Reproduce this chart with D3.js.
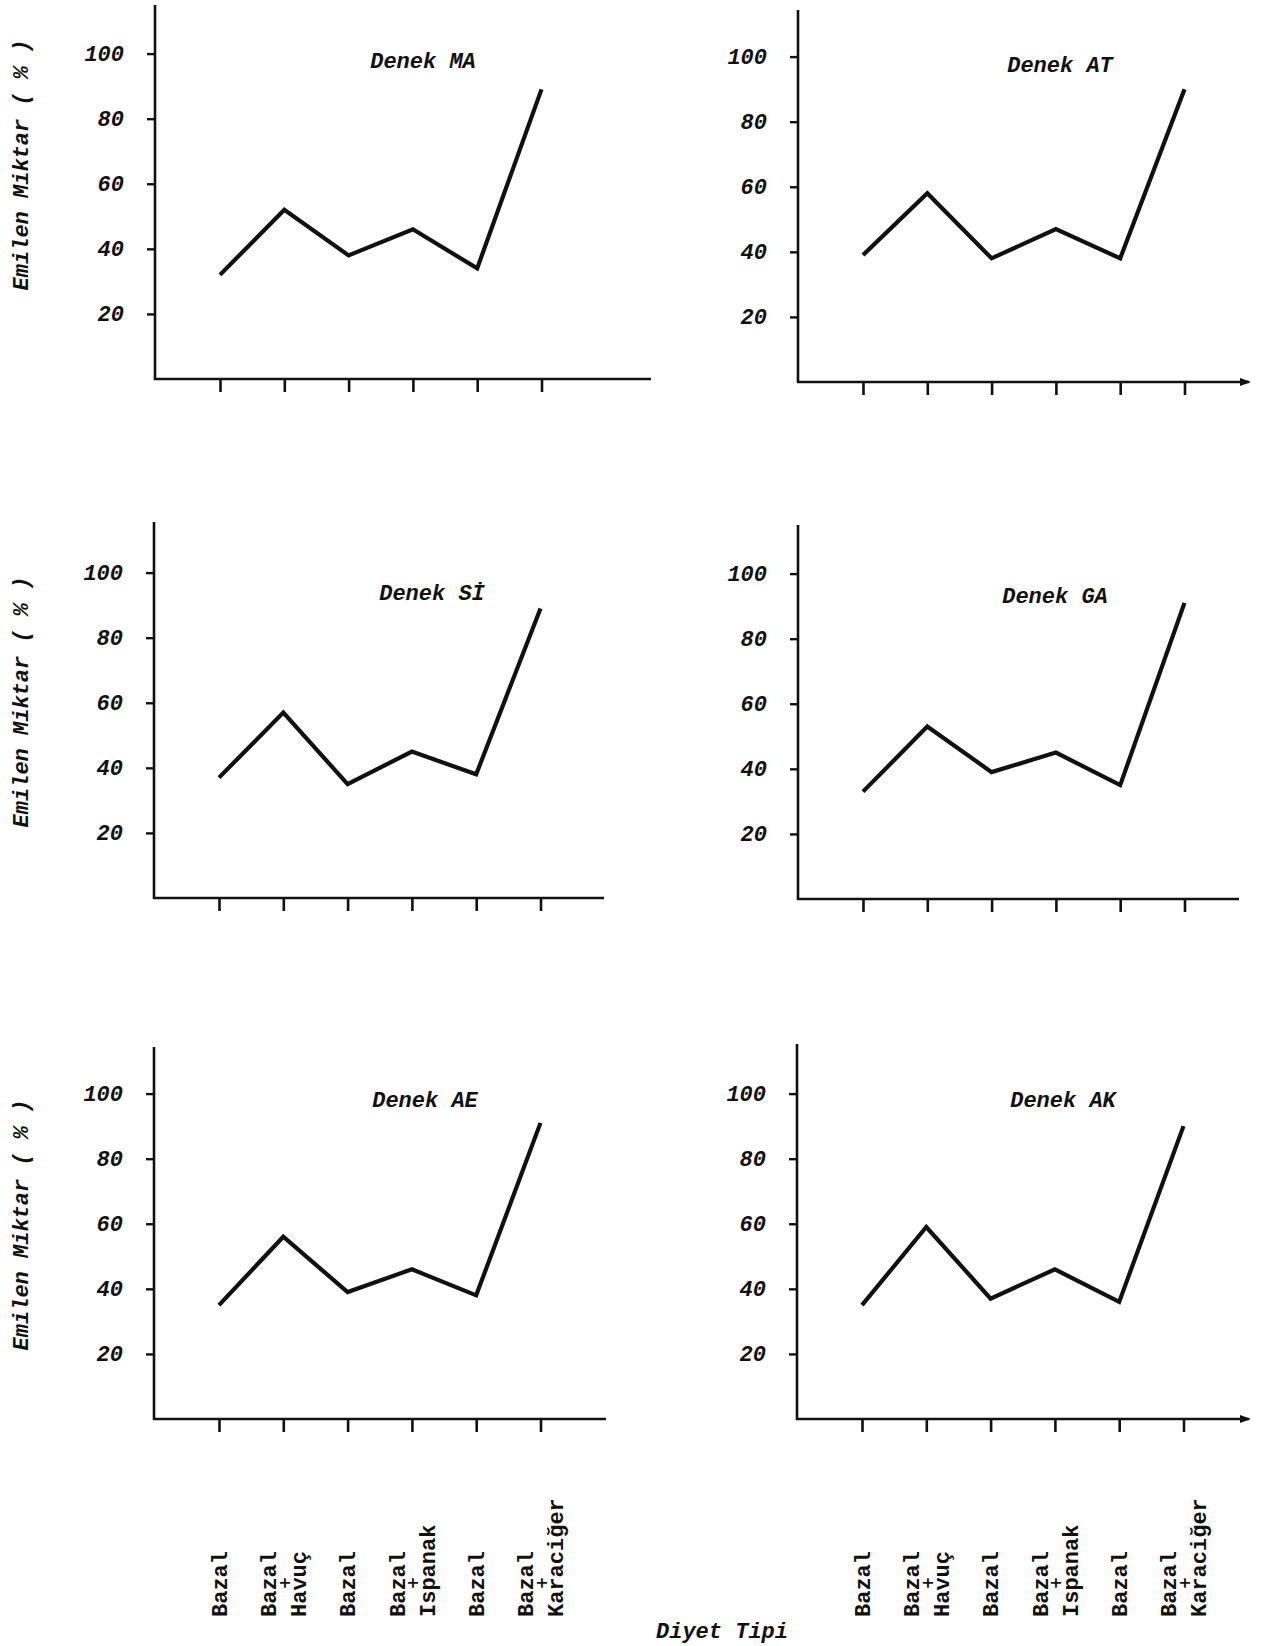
<!DOCTYPE html>
<html>
<head>
<meta charset="utf-8">
<script src="https://cdn.jsdelivr.net/npm/d3@7"></script>
<style>
body{margin:0;background:#fff}
</style>
</head>
<body>
<div id="graph"></div>
<script>
// diet types on the x axis, each split into the lines it is printed on
let dietTypes=[["Bazal"],["Bazal","Havuç"],["Bazal"],["Bazal","Ispanak"],["Bazal"],["Bazal","Karaciğer"]]
let subjects=["MA","AT","Sİ","GA","AE","AK"]
// absorbed amount (%) per diet
let valuesMA=[32,52,38,46,34,89]
let valuesAT=[39,58,38,47,38,90]
let valuesSI=[37,57,35,45,38,89]
let valuesGA=[33,53,39,45,35,91]
let valuesAE=[35,56,39,46,38,91]
let valuesAK=[35,59,37,46,36,90]
let yTicks=[20,40,60,80,100]
let yLabel="Emilen Miktar ( % )"
let xLabel="Diyet Tipi"

let seriesList=[valuesMA,valuesAT,valuesSI,valuesGA,valuesAE,valuesAK]

// where each small plot sits on the page
let panels=[
 {ax:155,zero:379,top:5,end:651,tx:423,ty:68,ly:165,arrow:false},
 {ax:798,zero:382,top:10,end:1249,tx:1060,ty:72,ly:null,arrow:true},
 {ax:154,zero:898,top:522,end:604,tx:432,ty:600,ly:702,arrow:false},
 {ax:798,zero:899,top:525,end:1239,tx:1055,ty:603,ly:null,arrow:false},
 {ax:154,zero:1419,top:1047,end:606,tx:425,ty:1107,ly:1225,arrow:false},
 {ax:797,zero:1419,top:1044,end:1249,tx:1063,ty:1107,ly:null,arrow:true}
]

const ink="#111"
const font="'Liberation Mono','DejaVu Sans Mono',monospace"
const W=1267,H=1646

let svg=d3.select("#graph")
.append("svg")
.attr("width",W)
.attr("height",H)
.style("display","block")
.style("background","#fff")

let xScales=[]

panels.forEach((p,k)=>{
  let g=svg.append("g")
  let y=d3.scaleLinear().domain([0,100]).range([p.zero,p.zero-325.4])
  let x=d3.scalePoint().domain(d3.range(dietTypes.length)).range([p.ax+65,p.ax+65+5*64.3])
  xScales.push(x)

  //axis lines
  g.append("line")
  .attr("x1",p.ax).attr("x2",p.ax)
  .attr("y1",p.zero+1).attr("y2",p.top)
  .attr("stroke",ink).attr("stroke-width",2.6)
  g.append("line")
  .attr("x1",p.ax-1).attr("x2",p.end)
  .attr("y1",p.zero).attr("y2",p.zero)
  .attr("stroke",ink).attr("stroke-width",2.6)
  if(p.arrow){
    g.append("path")
    .attr("d",`M${p.end-9},${p.zero-4}L${p.end+2},${p.zero}L${p.end-9},${p.zero+4}Z`)
    .attr("fill",ink)
  }

  // y axis
  let yAxis=d3.axisLeft(y).tickValues(yTicks).tickSize(8).tickPadding(23).tickSizeOuter(0)
  let ya=g.append("g").attr("transform",`translate(${p.ax},0)`).call(yAxis)
  ya.select(".domain").remove()
  ya.selectAll("line").attr("stroke",ink).attr("stroke-width",2.4)
  ya.selectAll("text")
  .attr("fill",ink)
  .style("font-family",font)
  .style("font-size","22px")
  .style("font-style","italic")
  .style("font-weight","bold")

  // x axis, labels only under the last row
  let xAxis=d3.axisBottom(x).tickSize(13).tickFormat("").tickSizeOuter(0)
  let xa=g.append("g").attr("transform",`translate(0,${p.zero})`).call(xAxis)
  xa.select(".domain").remove()
  xa.selectAll("line").attr("stroke",ink).attr("stroke-width",2.6)

  let line=d3.line().x((d,i)=>x(i)).y(d=>y(d))
  g.append("path")
  .datum(seriesList[k])
  .attr("d",line)
  .attr("fill","none")
  .attr("stroke",ink)
  .attr("stroke-width",4.2)
  .attr("stroke-linejoin","miter")

  g.append("text")
  .attr("x",p.tx).attr("y",p.ty)
  .attr("text-anchor","middle")
  .attr("fill",ink)
  .style("font-family",font)
  .style("font-size","22px")
  .style("font-style","italic")
  .style("font-weight","bold")
  .text("Denek "+subjects[k])

  if(p.ly){
    g.append("text")
    .attr("transform",`translate(28,${p.ly}) rotate(-90)`)
    .attr("text-anchor","middle")
    .attr("fill",ink)
    .style("font-family",font)
    .style("font-size","22px")
    .style("font-style","italic")
    .style("font-weight","bold")
    .text(yLabel)
  }
})

// diet type labels under both bottom plots
const labelBase=1617
;[xScales[4],xScales[5]].forEach(x=>{
  dietTypes.forEach((lines,i)=>{
    let t=svg.append("g").attr("transform",`translate(${x(i)},${labelBase}) rotate(-90)`)
    let offs=lines.length==1?[0]:[-15,15]
    lines.forEach((s,j)=>{
      t.append("text")
      .attr("x",0).attr("y",offs[j])
      .attr("dy","0.35em")
      .attr("fill",ink)
      .style("font-family",font)
      .style("font-size","22px")
      .style("font-weight","bold")
      .text(s)
    })
    if(lines.length>1){
      t.append("text")
      .attr("x",34).attr("y",1)
      .attr("dy","0.35em")
      .attr("text-anchor","middle")
      .attr("fill",ink)
      .style("font-family","'DejaVu Sans',sans-serif")
      .style("font-size","15px")
      .style("font-weight","bold")
      .text("+")
    }
  })
})

svg.append("text")
.attr("x",722).attr("y",1638)
.attr("text-anchor","middle")
.attr("fill",ink)
.style("font-family",font)
.style("font-size","22px")
.style("font-style","italic")
.style("font-weight","bold")
.text(xLabel)
</script>
</body>
</html>
